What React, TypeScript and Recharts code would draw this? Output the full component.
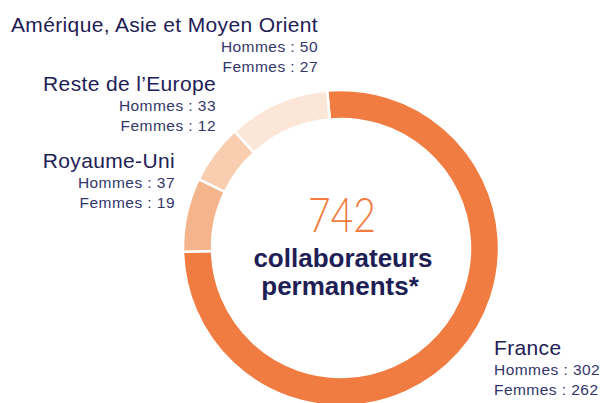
import { Cell, Pie, PieChart } from "recharts";

// Effectifs permanents par zone géographique
const regions = ["France", "Royaume-Uni", "Reste de l’Europe", "Amérique, Asie et Moyen Orient"];
const hommes = [302, 37, 33, 50];
const femmes = [262, 19, 12, 27];
const colors = ["#F07C41", "#F5B58C", "#F9CDAF", "#FCE6D8"];

const NAVY = "#1E2055";
const SUB = "#33366A";
const FONT = "'Liberation Sans', Arial, Helvetica, sans-serif";

const data = regions.map((name, i) => ({ name, value: hommes[i] + femmes[i] }));
const total = data.reduce((s, d) => s + d.value, 0);

// label blocks: anchor x, title baseline, alignment
const labelPos = [
  { x: 494, y: 355, anchor: "start" },
  { x: 175, y: 168, anchor: "end" },
  { x: 216, y: 91, anchor: "end" },
  { x: 318, y: 32, anchor: "end" },
];

function RegionLabel({ i }: { i: number }) {
  const p = labelPos[i];
  return (
    <g fontFamily={FONT} textAnchor={p.anchor}>
      <text x={p.x} y={p.y} fontSize={21} letterSpacing={0.35} fill={NAVY}>
        {regions[i]}
      </text>
      <text x={p.x} y={p.y + 20} fontSize={15.5} letterSpacing={0.45} fill={SUB}>
        {`Hommes : ${hommes[i]}`}
      </text>
      <text x={p.x} y={p.y + 39.5} fontSize={15.5} letterSpacing={0.45} fill={SUB}>
        {`Femmes : ${femmes[i]}`}
      </text>
    </g>
  );
}

export default function App() {
  return (
    <div style={{ position: "absolute", left: 0, top: 0, width: 600, height: 403, background: "#fff" }}>
      <PieChart width={600} height={403} margin={{ top: 0, right: 0, bottom: 0, left: 0 }}>
        <Pie
          data={data}
          dataKey="value"
          nameKey="name"
          cx={341}
          cy={248}
          innerRadius={129}
          outerRadius={158}
          startAngle={95}
          endAngle={-265}
          stroke="#fff"
          strokeWidth={2.5}
          isAnimationActive={false}
        >
          {data.map((d, i) => (
            <Cell key={d.name} fill={colors[i]} />
          ))}
        </Pie>
      </PieChart>
      <svg width={600} height={403} style={{ position: "absolute", left: 0, top: 0, pointerEvents: "none" }}>
        {regions.map((r, i) => (
          <RegionLabel key={r} i={i} />
        ))}
        <text
          x={342}
          y={232}
          textAnchor="middle"
          fontFamily="Lato, 'Open Sans', sans-serif"
          fontWeight={300}
          fontSize={47}
          textLength={68}
          lengthAdjust="spacingAndGlyphs"
          fill="#F07C41"
        >
          {total}
        </text>
        <text x={343} y={267} textAnchor="middle" fontFamily={FONT} fontWeight={700} fontSize={26} fill={NAVY}>
          collaborateurs
        </text>
        <text x={340} y={295} textAnchor="middle" fontFamily={FONT} fontWeight={700} fontSize={26} fill={NAVY}>
          permanents*
        </text>
      </svg>
    </div>
  );
}
